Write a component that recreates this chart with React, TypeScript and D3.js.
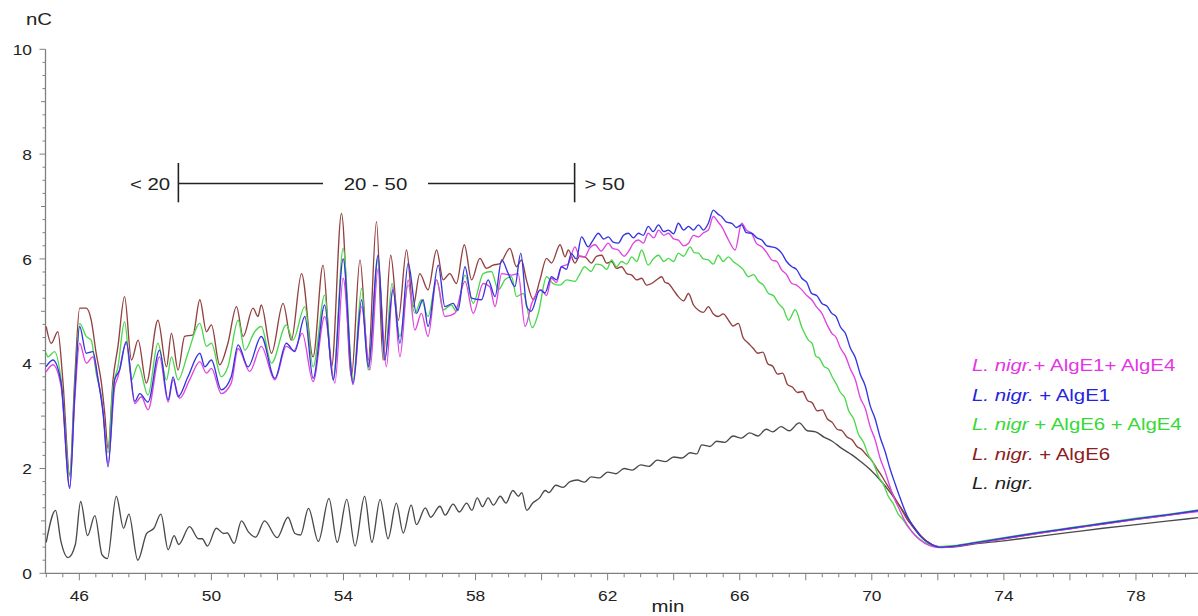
import React from 'react';
import * as d3 from 'd3';

const W = 1198;
const H = 616;

const xDomain: [number, number] = [45, 80];
const yDomain: [number, number] = [0, 10];
const xTickLabels = [46, 50, 54, 58, 62, 66, 70, 74, 78];
const yTickLabels = [0, 2, 4, 6, 8, 10];

const seriesNames = [
  ['L. nigr.', '+ AlgE1+ AlgE4'],
  ['L. nigr.', ' + AlgE1'],
  ['L. nigr', ' + AlgE6 + AlgE4'],
  ['L. nigr.', ' + AlgE6'],
  ['L. nigr.', ''],
];
const legendColors = ['#e436e4', '#2424de', '#36d936', '#8b2020', '#1e1e1e'];
const lineColors = ['#df45df', '#3535e0', '#4cd84c', '#934040', '#4a4a4a'];

// L. nigr. + AlgE1 + AlgE4 (magenta)
const magenta: [number, number][] = [
  [45.0, 3.85], [45.2, 3.98], [45.45, 3.56], [45.71, 1.65], [45.86, 3.3], [46.01, 4.39], [46.21, 4.01],
  [46.41, 4.13], [46.57, 3.69], [46.72, 3.1], [46.87, 2.1], [47.07, 3.55], [47.17, 3.75], [47.42, 4.39],
  [47.68, 3.24], [47.88, 3.37], [48.08, 3.12], [48.43, 4.13], [48.69, 3.27], [48.84, 3.69], [49.04, 3.34],
  [49.34, 3.69], [49.65, 4.04], [49.85, 3.82], [50.0, 3.91], [50.3, 3.43], [50.6, 3.63], [50.81, 4.29],
  [51.16, 3.85], [51.51, 4.33], [51.92, 3.69], [52.27, 4.33], [52.5, 4.25], [52.75, 4.58], [53.08, 3.66],
  [53.43, 4.9], [53.74, 3.63], [53.99, 5.63], [54.29, 3.6], [54.55, 5.09], [54.8, 3.88], [55.05, 5.82],
  [55.3, 3.94], [55.5, 5.47], [55.71, 4.13], [55.96, 5.6], [56.16, 4.64], [56.36, 4.96], [56.56, 4.52],
  [56.82, 5.6], [57.07, 4.9], [57.37, 4.96], [57.68, 5.57], [57.93, 4.96], [58.23, 5.53], [58.43, 5.47],
  [58.59, 5.09], [58.79, 5.72], [59.09, 5.69], [59.29, 5.72], [59.5, 4.71], [59.7, 5.15], [60.0, 5.41],
  [60.15, 5.3], [60.3, 5.63], [60.45, 5.55], [60.6, 5.85], [60.8, 5.9], [61.01, 6.23], [61.15, 6.05],
  [61.31, 6.04], [61.45, 6.2], [61.62, 6.27], [61.8, 6.15], [62.02, 6.3], [62.15, 6.2], [62.32, 6.17],
  [62.5, 6.05], [62.63, 6.14], [62.78, 6.3], [62.93, 6.36], [63.08, 6.3], [63.23, 6.49], [63.4, 6.4],
  [63.54, 6.55], [63.7, 6.45], [63.84, 6.49], [64.0, 6.38], [64.14, 6.36], [64.3, 6.25], [64.45, 6.3],
  [64.6, 6.45], [64.75, 6.42], [64.9, 6.5], [65.05, 6.55], [65.2, 6.81], [65.35, 6.7], [65.45, 6.62],
  [65.66, 6.36], [65.86, 6.17], [66.06, 6.68], [66.2, 6.55], [66.36, 6.49], [66.5, 6.3], [66.67, 6.23],
  [66.82, 6.12], [66.97, 5.98], [67.12, 5.95], [67.27, 5.79], [67.42, 5.7], [67.58, 5.53], [67.72, 5.5],
  [67.88, 5.41], [68.03, 5.3], [68.18, 5.22], [68.33, 5.08], [68.49, 4.96], [68.64, 4.75], [68.79, 4.58],
  [68.92, 4.5], [69.05, 4.3], [69.2, 4.15], [69.35, 3.9], [69.5, 3.7], [69.65, 3.35], [69.8, 3.15],
  [69.95, 2.8], [70.1, 2.55], [70.25, 2.2], [70.4, 1.95], [70.55, 1.65], [70.7, 1.4], [70.85, 1.2],
  [71.0, 1.0], [71.15, 0.85], [71.3, 0.73], [71.45, 0.64], [71.75, 0.53], [72.05, 0.49], [72.5, 0.51],
  [73.0, 0.56], [74.0, 0.66], [75.0, 0.76], [76.0, 0.85], [77.0, 0.94], [78.0, 1.03], [79.0, 1.11],
  [80.0, 1.19],
];

// L. nigr. + AlgE1 (blue)
const blue: [number, number][] = [
  [45.0, 3.95], [45.2, 4.07], [45.45, 3.63], [45.71, 1.62], [45.86, 3.4], [46.01, 4.71], [46.21, 4.2],
  [46.41, 4.23], [46.57, 3.69], [46.72, 3.05], [46.87, 2.03], [47.07, 3.69], [47.22, 3.88], [47.42, 4.42],
  [47.68, 3.28], [47.83, 3.43], [48.08, 3.27], [48.43, 4.26], [48.69, 3.31], [48.84, 3.75], [48.99, 3.37],
  [49.29, 3.75], [49.65, 4.2], [49.8, 3.94], [50.0, 4.07], [50.3, 3.5], [50.6, 3.75], [50.81, 4.36],
  [51.11, 3.94], [51.51, 4.52], [51.92, 3.72], [52.27, 4.39], [52.52, 4.23], [52.83, 4.9], [53.08, 3.72],
  [53.43, 5.12], [53.69, 3.69], [53.99, 6.0], [54.29, 3.63], [54.55, 5.22], [54.75, 3.94], [55.05, 6.07],
  [55.25, 4.07], [55.5, 5.41], [55.71, 4.39], [55.96, 5.92], [56.21, 4.96], [56.41, 5.22], [56.56, 4.71],
  [56.87, 5.88], [57.07, 5.09], [57.32, 5.15], [57.47, 5.02], [57.68, 5.85], [57.88, 5.25], [58.18, 5.22],
  [58.38, 5.6], [58.59, 5.28], [58.79, 5.98], [58.99, 5.72], [59.19, 5.47], [59.37, 6.11], [59.55, 5.09],
  [59.68, 5.0], [59.95, 5.41], [60.1, 5.35], [60.3, 5.66], [60.45, 5.6], [60.6, 5.85], [60.75, 5.8],
  [60.9, 6.1], [61.05, 6.0], [61.21, 6.42], [61.41, 6.23], [61.55, 6.35], [61.72, 6.49], [61.88, 6.38],
  [62.02, 6.42], [62.17, 6.32], [62.32, 6.3], [62.48, 6.45], [62.63, 6.49], [62.78, 6.4], [62.93, 6.49],
  [63.08, 6.45], [63.23, 6.62], [63.38, 6.52], [63.54, 6.65], [63.7, 6.52], [63.84, 6.55], [64.0, 6.48],
  [64.14, 6.68], [64.3, 6.55], [64.45, 6.62], [64.6, 6.55], [64.75, 6.65], [64.9, 6.55], [65.05, 6.68],
  [65.2, 6.93], [65.35, 6.85], [65.45, 6.81], [65.6, 6.7], [65.76, 6.68], [65.9, 6.6], [66.06, 6.65],
  [66.2, 6.5], [66.36, 6.49], [66.52, 6.4], [66.67, 6.36], [66.82, 6.25], [66.97, 6.23], [67.12, 6.2],
  [67.27, 6.11], [67.42, 5.95], [67.58, 5.85], [67.72, 5.8], [67.88, 5.63], [68.03, 5.55], [68.18, 5.34],
  [68.33, 5.3], [68.49, 5.15], [68.64, 5.1], [68.79, 4.96], [68.92, 4.9], [69.05, 4.7], [69.2, 4.58],
  [69.35, 4.3], [69.5, 4.12], [69.65, 3.8], [69.8, 3.58], [69.95, 3.2], [70.1, 2.95], [70.25, 2.6],
  [70.4, 2.33], [70.55, 2.0], [70.7, 1.72], [70.85, 1.45], [71.0, 1.2], [71.15, 1.0], [71.3, 0.85],
  [71.45, 0.72], [71.75, 0.57], [72.05, 0.5], [72.5, 0.52], [73.0, 0.57], [74.0, 0.67], [75.0, 0.77],
  [76.0, 0.86], [77.0, 0.95], [78.0, 1.04], [79.0, 1.12], [80.0, 1.21],
];

// L. nigr + AlgE6 + AlgE4 (green)
const green: [number, number][] = [
  [45.0, 4.2], [45.05, 4.13], [45.25, 4.23], [45.45, 3.69], [45.71, 1.85], [45.86, 3.5], [46.01, 4.77],
  [46.21, 4.52], [46.36, 4.45], [46.51, 3.82], [46.67, 3.37], [46.87, 2.3], [47.02, 3.55], [47.17, 3.94],
  [47.37, 4.8], [47.58, 3.69], [47.78, 3.98], [48.08, 3.4], [48.38, 4.39], [48.64, 3.69], [48.79, 4.13],
  [48.99, 3.69], [49.29, 4.2], [49.65, 4.77], [49.85, 4.33], [50.0, 4.39], [50.3, 3.75], [50.5, 3.94],
  [50.81, 4.83], [51.01, 4.26], [51.31, 4.61], [51.51, 4.71], [51.82, 4.01], [52.27, 4.74], [52.47, 4.45],
  [52.83, 5.09], [53.08, 3.94], [53.43, 5.31], [53.69, 3.69], [53.99, 6.2], [54.29, 3.69], [54.55, 5.44],
  [54.75, 3.88], [55.05, 6.01], [55.25, 4.07], [55.47, 5.53], [55.71, 4.52], [55.96, 5.5], [56.16, 4.96],
  [56.36, 5.22], [56.56, 4.9], [56.82, 5.6], [57.02, 5.03], [57.27, 5.12], [57.42, 4.99], [57.68, 5.69],
  [57.93, 5.15], [58.23, 5.72], [58.48, 5.76], [58.69, 5.41], [58.89, 5.6], [59.09, 5.66], [59.24, 5.28],
  [59.44, 5.34], [59.72, 4.69], [59.9, 4.96], [60.15, 5.66], [60.35, 5.53], [60.56, 5.5], [60.76, 5.6],
  [61.01, 5.57], [61.15, 5.7], [61.3, 5.85], [61.5, 5.76], [61.65, 5.9], [61.82, 5.88], [61.97, 5.8],
  [62.12, 5.98], [62.27, 5.85], [62.42, 5.95], [62.58, 5.9], [62.73, 6.04], [62.88, 5.95], [63.03, 6.17],
  [63.23, 5.88], [63.38, 6.0], [63.54, 6.07], [63.7, 5.95], [63.84, 6.01], [64.0, 5.95], [64.14, 6.11],
  [64.3, 6.05], [64.5, 6.23], [64.62, 6.12], [64.75, 6.11], [64.9, 6.0], [65.05, 5.98], [65.2, 5.9],
  [65.35, 6.07], [65.5, 5.95], [65.66, 6.04], [65.8, 5.95], [65.96, 5.88], [66.1, 5.8], [66.26, 5.66],
  [66.42, 5.7], [66.57, 5.57], [66.72, 5.5], [66.87, 5.34], [67.02, 5.3], [67.17, 5.15], [67.32, 5.05],
  [67.48, 4.83], [67.68, 5.03], [67.88, 4.7], [68.08, 4.45], [68.2, 4.38], [68.3, 4.15], [68.42, 4.1],
  [68.55, 3.95], [68.68, 3.9], [68.8, 3.75], [68.92, 3.62], [69.05, 3.45], [69.18, 3.35], [69.3, 3.1],
  [69.45, 2.95], [69.6, 2.65], [69.75, 2.5], [69.9, 2.25], [70.05, 2.1], [70.2, 1.85], [70.35, 1.7],
  [70.5, 1.47], [70.65, 1.33], [70.8, 1.13], [70.95, 1.02], [71.1, 0.88], [71.4, 0.68], [71.7, 0.56],
  [72.0, 0.51], [72.5, 0.53], [73.0, 0.58], [74.0, 0.68], [75.0, 0.78], [76.0, 0.87], [77.0, 0.96],
  [78.0, 1.05], [79.0, 1.13], [80.0, 1.22],
];

// L. nigr. + AlgE6 (brown)
const brown: [number, number][] = [
  [45.0, 4.7], [45.15, 4.39], [45.35, 4.61], [45.5, 3.69], [45.71, 1.88], [45.86, 3.69], [46.01, 5.06],
  [46.21, 5.06], [46.36, 4.83], [46.51, 4.2], [46.67, 3.63], [46.77, 3.05], [46.87, 2.38], [47.02, 3.69],
  [47.17, 4.33], [47.37, 5.28], [47.58, 4.07], [47.78, 4.45], [48.03, 3.63], [48.38, 4.83], [48.64, 3.94],
  [48.79, 4.58], [48.99, 3.88], [49.19, 4.52], [49.44, 4.55], [49.65, 5.22], [49.85, 4.61], [50.0, 4.74],
  [50.25, 3.98], [50.5, 4.39], [50.76, 5.09], [50.96, 4.52], [51.26, 5.06], [51.41, 4.9], [51.51, 5.12],
  [51.82, 4.2], [52.17, 5.15], [52.42, 4.45], [52.73, 5.72], [53.08, 4.13], [53.38, 5.88], [53.64, 3.94],
  [53.94, 6.87], [54.24, 3.75], [54.5, 5.98], [54.75, 4.07], [55.0, 6.71], [55.2, 4.07], [55.43, 6.07],
  [55.66, 4.83], [55.91, 6.17], [56.11, 5.09], [56.31, 5.72], [56.56, 5.41], [56.82, 6.17], [57.02, 5.6],
  [57.22, 5.72], [57.42, 5.53], [57.66, 6.27], [57.88, 5.6], [58.13, 6.01], [58.33, 5.82], [58.53, 5.88],
  [58.74, 5.91], [59.04, 6.2], [59.24, 5.85], [59.39, 5.98], [59.54, 5.6], [59.75, 5.22], [59.95, 5.6],
  [60.15, 6.01], [60.3, 5.92], [60.56, 6.27], [60.71, 6.04], [60.81, 6.17], [61.01, 5.92], [61.15, 6.05],
  [61.31, 6.04], [61.51, 5.92], [61.66, 6.05], [61.82, 6.07], [61.97, 5.92], [62.12, 5.95], [62.27, 5.82],
  [62.42, 5.85], [62.58, 5.72], [62.73, 5.69], [62.88, 5.6], [63.03, 5.63], [63.18, 5.5], [63.33, 5.53],
  [63.48, 5.6], [63.64, 5.66], [63.74, 5.55], [63.84, 5.53], [64.0, 5.4], [64.14, 5.28], [64.3, 5.2],
  [64.45, 5.34], [64.6, 5.12], [64.75, 5.02], [64.9, 4.98], [65.05, 5.09], [65.2, 4.95], [65.35, 4.9],
  [65.5, 4.95], [65.66, 4.83], [65.8, 4.72], [65.96, 4.77], [66.1, 4.5], [66.26, 4.39], [66.4, 4.3],
  [66.55, 4.2], [66.7, 4.22], [66.85, 4.0], [67.0, 3.95], [67.15, 3.8], [67.3, 3.82], [67.45, 3.6],
  [67.6, 3.55], [67.75, 3.45], [67.9, 3.47], [68.05, 3.3], [68.2, 3.25], [68.35, 3.1], [68.5, 3.12],
  [68.65, 2.95], [68.8, 2.88], [68.95, 2.75], [69.1, 2.72], [69.25, 2.6], [69.4, 2.55], [69.55, 2.42],
  [69.7, 2.36], [69.85, 2.25], [70.0, 2.15], [70.15, 2.0], [70.3, 1.86], [70.45, 1.7], [70.6, 1.55],
  [70.75, 1.38], [70.9, 1.22], [71.05, 1.05], [71.2, 0.92], [71.35, 0.8], [71.65, 0.62], [71.95, 0.52],
  [72.2, 0.5], [72.6, 0.52], [73.0, 0.56], [74.0, 0.66], [75.0, 0.76], [76.0, 0.85], [77.0, 0.94],
  [78.0, 1.03], [79.0, 1.11], [80.0, 1.2],
];

// L. nigr. (black)
const black: [number, number][] = [
  [45.0, 0.6], [45.28, 1.2], [45.44, 0.62], [45.66, 0.3], [45.88, 0.55], [46.04, 1.37], [46.25, 0.72],
  [46.47, 1.1], [46.69, 0.35], [46.85, 0.28], [47.12, 1.47], [47.34, 0.86], [47.5, 1.13], [47.77, 0.25],
  [48.04, 0.76], [48.26, 0.86], [48.47, 1.13], [48.69, 0.45], [48.87, 0.72], [49.01, 0.55], [49.34, 0.89],
  [49.61, 0.66], [49.72, 0.66], [49.88, 0.52], [50.15, 0.86], [50.37, 0.76], [50.48, 0.77], [50.69, 0.57],
  [50.91, 1.0], [51.12, 0.79], [51.34, 0.69], [51.61, 1.0], [51.99, 0.68], [52.32, 1.07], [52.53, 0.76],
  [52.7, 0.73], [52.94, 1.24], [53.24, 0.61], [53.56, 1.43], [53.81, 0.59], [54.1, 1.41], [54.35, 0.52],
  [54.64, 1.47], [54.86, 0.59], [55.11, 1.41], [55.35, 0.66], [55.6, 1.34], [55.81, 0.77], [56.05, 1.3],
  [56.21, 0.93], [56.48, 1.25], [56.64, 1.07], [56.92, 1.28], [57.08, 1.11], [57.32, 1.32], [57.51, 1.17],
  [57.73, 1.34], [57.89, 1.2], [58.05, 1.44], [58.21, 1.27], [58.38, 1.44], [58.54, 1.3], [58.75, 1.47],
  [58.92, 1.34], [59.13, 1.58], [59.3, 1.47], [59.4, 1.54], [59.55, 1.2], [59.73, 1.34], [59.94, 1.44],
  [60.11, 1.58], [60.22, 1.54], [60.43, 1.68], [60.65, 1.64], [60.86, 1.75], [61.08, 1.78], [61.3, 1.74],
  [61.5, 1.84], [61.75, 1.82], [62.0, 1.93], [62.25, 1.9], [62.5, 2.0], [62.75, 1.97], [63.0, 2.07],
  [63.25, 2.04], [63.5, 2.16], [63.75, 2.13], [64.0, 2.22], [64.25, 2.2], [64.5, 2.3], [64.7, 2.28],
  [64.85, 2.45], [65.1, 2.42], [65.3, 2.52], [65.55, 2.5], [65.8, 2.62], [66.05, 2.58], [66.3, 2.68],
  [66.55, 2.62], [66.8, 2.75], [67.0, 2.7], [67.25, 2.8], [67.5, 2.72], [67.8, 2.87], [68.05, 2.72],
  [68.3, 2.7], [68.55, 2.6], [68.8, 2.52], [69.1, 2.38], [69.4, 2.26], [69.65, 2.14], [69.95, 1.98],
  [70.25, 1.78], [70.55, 1.55], [70.85, 1.28], [71.2, 0.95], [71.6, 0.64], [71.9, 0.52], [72.2, 0.5],
  [72.6, 0.51], [73.0, 0.55], [74.0, 0.62], [75.0, 0.7], [76.0, 0.78], [77.0, 0.86], [78.0, 0.93],
  [79.0, 1.0], [80.0, 1.07],
];

const seriesData = [magenta, blue, green, brown, black];
const drawOrder = [4, 3, 2, 0, 1];

// Size-class annotation: bar positions (min), line gap and labels
const annotBars = [49.0, 61.0];
const annotLineGaps = [53.38, 56.56];
const annotY = 7.44;
const annotBarSpan = [7.08, 7.83];
const annotLabels = ['< 20', '20 - 50', '> 50'];
const annotLabelX = [48.75, 54.97, 61.3];

const FONT = "'Liberation Sans', Arial, Helvetica, sans-serif";

function SText(props: {
  x: number;
  y: number;
  sx: number;
  size: number;
  anchor?: string;
  fill?: string;
  children: React.ReactNode;
}) {
  const { x, y, sx, size, anchor = 'start', fill = '#222', children } = props;
  return (
    <text
      transform={`translate(${x},${y}) scale(${sx},1)`}
      textAnchor={anchor}
      fontFamily={FONT}
      fontSize={size}
      fill={fill}
      style={{ whiteSpace: 'pre' }}
    >
      {children}
    </text>
  );
}

export default function App() {
  const x = d3.scaleLinear().domain(xDomain).range([46.3, 1202]);
  const y = d3.scaleLinear().domain(yDomain).range([573.3, 49.3]);

  const line = d3
    .line<[number, number]>()
    .x((d) => x(d[0]))
    .y((d) => y(d[1]))
    .curve(d3.curveMonotoneX);

  const xMinor = d3.range(45, 80.01, 0.5);
  const yMinor = d3.range(0, 10.01, 0.25);
  const axisColor = '#808080';
  const ax = x(45) - 0.8;

  return (
    <div style={{ position: 'absolute', left: 0, top: 0 }}>
      <svg width={W} height={H} viewBox={`0 0 ${W} ${H}`} style={{ display: 'block', background: '#fff' }}>
        <defs>
          <clipPath id="plot">
            <rect x={ax} y={0} width={W - ax} height={y(0) + 1} />
          </clipPath>
        </defs>

        {/* axes */}
        <line x1={ax} x2={ax} y1={y(10)} y2={y(0)} stroke={axisColor} strokeWidth={1.3} />
        <line x1={ax - 0.6} x2={W} y1={y(0)} y2={y(0)} stroke={axisColor} strokeWidth={1.3} />
        {yMinor.map((v) => {
          const isLab = Math.abs(v % 2) < 1e-6;
          const isInt = Math.abs(v - Math.round(v)) < 1e-6;
          const len = isLab ? 6 : isInt ? 4.5 : 3;
          return <line key={'yt' + v} x1={ax - len} x2={ax} y1={y(v)} y2={y(v)} stroke={axisColor} strokeWidth={1} />;
        })}
        {xMinor.map((t) => {
          const isMaj = Math.abs(t % 2) < 1e-6;
          const len = isMaj ? 7 : 4;
          return <line key={'xt' + t} x1={x(t)} x2={x(t)} y1={y(0)} y2={y(0) + len} stroke={axisColor} strokeWidth={1} />;
        })}
        {yTickLabels.map((v) => (
          <SText key={'yl' + v} x={32} y={y(v) + 5.6} sx={1.12} size={15.5} anchor="end">
            {v}
          </SText>
        ))}
        {xTickLabels.map((t) => (
          <SText key={'xl' + t} x={x(t)} y={601} sx={1.12} size={15.5} anchor="middle">
            {t}
          </SText>
        ))}
        <SText x={26} y={25} sx={1.2} size={17}>nC</SText>
        <SText x={668} y={612} sx={1.2} size={17} anchor="middle">min</SText>

        {/* size-class annotation */}
        <g stroke="#222" strokeWidth={1.6}>
          <line x1={x(annotBars[0])} x2={x(annotLineGaps[0])} y1={y(annotY)} y2={y(annotY)} />
          <line x1={x(annotLineGaps[1])} x2={x(annotBars[1])} y1={y(annotY)} y2={y(annotY)} />
          {annotBars.map((b) => (
            <line key={'ab' + b} x1={x(b)} x2={x(b)} y1={y(annotBarSpan[1])} y2={y(annotBarSpan[0])} />
          ))}
        </g>
        {annotLabels.map((s, i) => (
          <SText
            key={'al' + i}
            x={x(annotLabelX[i])}
            y={y(annotY) + 6.2}
            sx={1.2}
            size={17}
            anchor={i === 0 ? 'end' : i === 1 ? 'middle' : 'start'}
          >
            {s}
          </SText>
        ))}

        {/* series */}
        <g clipPath="url(#plot)" fill="none" strokeLinejoin="round" strokeLinecap="round">
          {drawOrder.map((i) => (
            <path key={'s' + i} d={line(seriesData[i]) || ''} stroke={lineColors[i]} strokeWidth={1.35} />
          ))}
        </g>

        {/* legend */}
        {seriesNames.map((nm, i) => (
          <SText key={'lg' + i} x={972} y={371 + i * 29.6} sx={1.2} size={17} fill={legendColors[i]}>
            <tspan fontStyle="italic">{nm[0]}</tspan>
            <tspan>{nm[1]}</tspan>
          </SText>
        ))}
      </svg>
    </div>
  );
}
